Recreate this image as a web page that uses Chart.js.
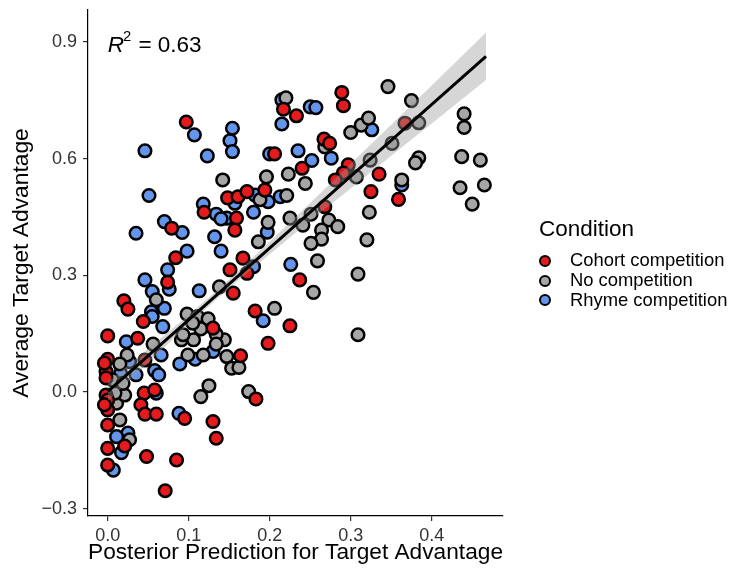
<!DOCTYPE html>
<html>
<head>
<meta charset="utf-8">
<script src="https://cdn.jsdelivr.net/npm/chart.js@4.4.1/dist/chart.umd.min.js"></script>
<style>
    body { margin: 0; background: #fff; font-family: 'Liberation Sans', Arial, sans-serif; }
    #wrap { position: relative; width: 739px; height: 570px; }
    #legend { position: absolute; left: 539px; top: 218px; color: #000; }
    #legend .title { font-size: 22.5px; line-height: 22.5px; height: 32px; }
    #legend .row { display: flex; align-items: center; height: 19.8px; font-size: 18.4px; line-height: 19.8px; }
    #legend .dot { width: 12px; height: 12px; box-sizing: border-box; border: 2.3px solid #000; border-radius: 50%; margin-right: 19px; position: relative; top: 1px; }
</style>
</head>
<body>
<div id="wrap">
    <canvas id="scatterChart" width="739" height="570"></canvas>
    <div id="legend"></div>
</div>
<script>
const conditionNames = ['Cohort competition', 'No competition', 'Rhyme competition'];
const conditionColors = ['#e41a1c', '#a6a6a6', '#6495ed'];

const cohortPoints = [
    [0.097, 0.694], [0.233, 0.710], [0.217, 0.727], [0.289, 0.770], [0.291, 0.736], [0.206, 0.612],
    [0.267, 0.650], [0.274, 0.639], [0.240, 0.575], [0.297, 0.584], [0.291, 0.563], [0.367, 0.691],
    [0.335, 0.560], [0.359, 0.495], [0.325, 0.515], [0.281, 0.545], [0.148, 0.499], [0.161, 0.502],
    [0.172, 0.515], [0.194, 0.519], [0.159, 0.447], [0.157, 0.416], [0.268, 0.476], [0.167, 0.344],
    [0.151, 0.314], [0.172, 0.305], [0.237, 0.288], [0.155, 0.254], [0.182, 0.208], [0.225, 0.170],
    [0.198, 0.125], [0.164, 0.093], [0.183, -0.018], [0.119, 0.462], [0.079, 0.421], [0.084, 0.345],
    [0.074, 0.282], [0.020, 0.234], [0.025, 0.213], [0.044, 0.181], [0.000, 0.144], [0.037, 0.138],
    [0.130, 0.164], [0.000, 0.084], [0.046, 0.082], [-0.002, 0.052], [0.045, -0.003], [0.058, 0.005],
    [0.041, -0.033], [0.046, -0.057], [0.060, -0.057], [-0.002, -0.008], [0.000, -0.046], [0.095, -0.068],
    [0.130, -0.076], [0.134, -0.119], [0.000, -0.085], [0.021, -0.139], [0.000, -0.145], [0.048, -0.166],
    [0.085, -0.175], [0.000, -0.188], [0.071, -0.254], [-0.004, 0.074], [-0.002, 0.036], [0.000, -0.021],
    [-0.004, -0.033]
];

const noCompPoints = [
    [0.220, 0.756], [0.300, 0.667], [0.268, 0.630], [0.196, 0.553], [0.223, 0.560], [0.313, 0.686],
    [0.346, 0.785], [0.375, 0.749], [0.322, 0.704], [0.384, 0.692], [0.440, 0.715], [0.440, 0.680],
    [0.351, 0.639], [0.324, 0.596], [0.384, 0.602], [0.380, 0.589], [0.437, 0.605], [0.460, 0.596],
    [0.363, 0.545], [0.435, 0.525], [0.465, 0.532], [0.450, 0.483], [0.323, 0.462], [0.320, 0.391],
    [0.244, 0.536], [0.307, 0.553], [0.188, 0.494], [0.221, 0.505], [0.198, 0.436], [0.225, 0.447],
    [0.251, 0.457], [0.241, 0.429], [0.273, 0.442], [0.284, 0.425], [0.264, 0.416], [0.264, 0.393],
    [0.251, 0.382], [0.186, 0.386], [0.259, 0.337], [0.254, 0.256], [0.309, 0.303], [0.206, 0.215],
    [0.309, 0.147], [0.147, 0.091], [0.153, 0.061], [0.162, 0.063], [0.174, 0.001], [0.142, 0.545],
    [0.060, 0.237], [0.098, 0.200], [0.111, 0.194], [0.124, 0.188], [0.138, 0.270], [0.115, 0.162],
    [0.091, 0.134], [0.144, 0.134], [0.134, 0.148], [0.024, 0.095], [0.056, 0.123], [0.099, 0.095],
    [0.118, 0.095], [0.134, 0.123], [0.015, 0.072], [0.125, 0.016], [0.115, -0.012], [0.011, -0.029],
    [0.021, -0.008], [0.015, -0.072], [0.027, -0.123], [0.006, 0.031], [0.019, 0.022], [0.009, -0.003],
    [0.105, 0.177], [0.106, 0.134], [0.093, 0.147]
];

const rhymePoints = [
    [0.107, 0.661], [0.046, 0.620], [0.123, 0.607], [0.215, 0.751], [0.215, 0.689], [0.250, 0.733],
    [0.257, 0.731], [0.154, 0.678], [0.151, 0.646], [0.154, 0.618], [0.200, 0.612], [0.235, 0.620],
    [0.276, 0.601], [0.252, 0.595], [0.326, 0.674], [0.363, 0.532], [0.182, 0.506], [0.198, 0.489],
    [0.213, 0.502], [0.157, 0.485], [0.180, 0.462], [0.147, 0.447], [0.197, 0.411], [0.180, 0.322],
    [0.226, 0.328], [0.192, 0.183], [0.051, 0.505], [0.118, 0.483], [0.134, 0.457], [0.140, 0.445],
    [0.035, 0.408], [0.070, 0.438], [0.092, 0.410], [0.132, 0.399], [0.140, 0.362], [0.098, 0.362],
    [0.074, 0.314], [0.046, 0.288], [0.076, 0.264], [0.055, 0.258], [0.113, 0.260], [0.070, 0.215],
    [0.054, 0.206], [0.055, 0.194], [0.068, 0.168], [0.023, 0.129], [0.066, 0.095], [0.089, 0.072],
    [0.108, 0.084], [0.130, 0.104], [0.016, 0.048], [0.035, 0.044], [0.058, 0.055], [0.063, 0.044],
    [0.060, -0.003], [0.088, -0.055], [0.025, -0.106], [0.011, -0.115], [0.017, -0.156], [0.007, -0.201],
    [0.027, 0.078]
];

// fitted line and its confidence band
const fitX = [0.0, 0.467];
const fitY = [0.001, 0.863];
const bandX = [0.0, 0.05, 0.1, 0.15, 0.2, 0.25, 0.3, 0.35, 0.4, 0.467];
const bandUpper = [0.026, 0.111, 0.198, 0.289, 0.386, 0.486, 0.587, 0.687, 0.788, 0.924];
const bandLower = [-0.024, 0.075, 0.174, 0.267, 0.354, 0.440, 0.523, 0.607, 0.690, 0.802];

const xTickStep = 0.1;
const yTickStep = 0.3;
const r2Text = '0.63';

const FONT = "'Liberation Sans', Arial, sans-serif";
Chart.defaults.font.family = FONT;

const toXY = pts => pts.map(p => ({ x: p[0], y: p[1] }));
const zip = (xs, ys) => xs.map((x, i) => ({ x: x, y: ys[i] }));

function fmtTick(v) {
    if (Math.abs(v) < 1e-9) return '0.0';
    return v < 0 ? '\u2212' + Math.abs(v).toFixed(1) : v.toFixed(1);
}

const r2Label = {
    id: 'r2Label',
    afterDatasetsDraw(chart) {
        const ctx = chart.ctx;
        const x0 = chart.scales.x.getPixelForValue(0);
        const base = chart.scales.y.getPixelForValue(0.9) + 10;
        ctx.save();
        ctx.fillStyle = '#000';
        ctx.textBaseline = 'alphabetic';
        ctx.textAlign = 'left';
        ctx.font = 'italic 22.5px ' + FONT;
        ctx.fillText('R', x0, base);
        let x = x0 + ctx.measureText('R').width - 1;
        ctx.font = '14.8px ' + FONT;
        ctx.fillText('2', x, base - 10.4);
        x += ctx.measureText('2').width + 1;
        ctx.font = '22.5px ' + FONT;
        ctx.fillText(' = ' + r2Text, x, base);
        ctx.restore();
    }
};

function scatterSet(i, pts) {
    return {
        label: conditionNames[i],
        data: toXY(pts),
        backgroundColor: conditionColors[i],
        borderColor: '#000',
        borderWidth: 2.5,
        pointRadius: 6.3,
        pointHoverRadius: 6.3,
        order: 2
    };
}

function axisOpts(min, max, step, title) {
    return {
        type: 'linear',
        min: min,
        max: max,
        ticks: {
            stepSize: step,
            includeBounds: false,
            callback: fmtTick,
            color: '#333',
            font: { size: 18 },
            padding: 4,
            maxRotation: 0
        },
        grid: { drawOnChartArea: false, drawTicks: true, tickLength: 5, color: '#333', lineWidth: 1.2 },
        border: { display: true, color: '#000', width: 1.2 },
        title: { display: true, text: title, color: '#000', font: { size: 22.8 } }
    };
}

function buildLegend() {
    const box = document.getElementById('legend');
    let html = '<div class="title">Condition</div>';
    conditionNames.forEach((name, i) => {
        html += `<div class="row"><span class="dot" style="background:${conditionColors[i]}"></span>${name}</div>`;
    });
    box.innerHTML = html;
}

function drawChart() {
    const xAxis = axisOpts(-0.0243, 0.488, xTickStep, 'Posterior Prediction for Target Advantage');
    xAxis.ticks.padding = 4;
    xAxis.title.padding = { top: 0, bottom: 3.5 };
    xAxis.afterFit = s => { s.height = 54; s.paddingLeft = 0; s.paddingRight = 0; };

    const yAxis = axisOpts(-0.319, 0.982, yTickStep, 'Average Target Advantage');
    yAxis.ticks.padding = 6;
    yAxis.title.padding = { top: 8.5, bottom: 0 };
    yAxis.afterFit = s => { s.width = 88; s.paddingTop = 0; s.paddingBottom = 0; };

    new Chart(document.getElementById('scatterChart'), {
        type: 'scatter',
        data: {
            datasets: [
                scatterSet(0, cohortPoints),
                scatterSet(1, noCompPoints),
                scatterSet(2, rhymePoints),
                {
                    type: 'line', label: 'band upper', data: zip(bandX, bandUpper),
                    showLine: true, pointRadius: 0, borderWidth: 0,
                    backgroundColor: 'rgba(153,153,153,0.4)', fill: '+1', order: 1
                },
                {
                    type: 'line', label: 'band lower', data: zip(bandX, bandLower),
                    showLine: true, pointRadius: 0, borderWidth: 0, fill: false, order: 1
                },
                {
                    type: 'line', label: 'fit', data: zip(fitX, fitY),
                    showLine: true, pointRadius: 0, borderColor: '#000', borderWidth: 3,
                    fill: false, order: 0
                }
            ]
        },
        options: {
            responsive: false,
            animation: false,
            events: [],
            layout: { padding: { left: 0, right: 236, top: 10, bottom: 0 } },
            plugins: { legend: { display: false }, tooltip: { enabled: false } },
            scales: { x: xAxis, y: yAxis }
        },
        plugins: [r2Label]
    });
}

document.addEventListener('DOMContentLoaded', () => {
    buildLegend();
    drawChart();
});
</script>
</body>
</html>
